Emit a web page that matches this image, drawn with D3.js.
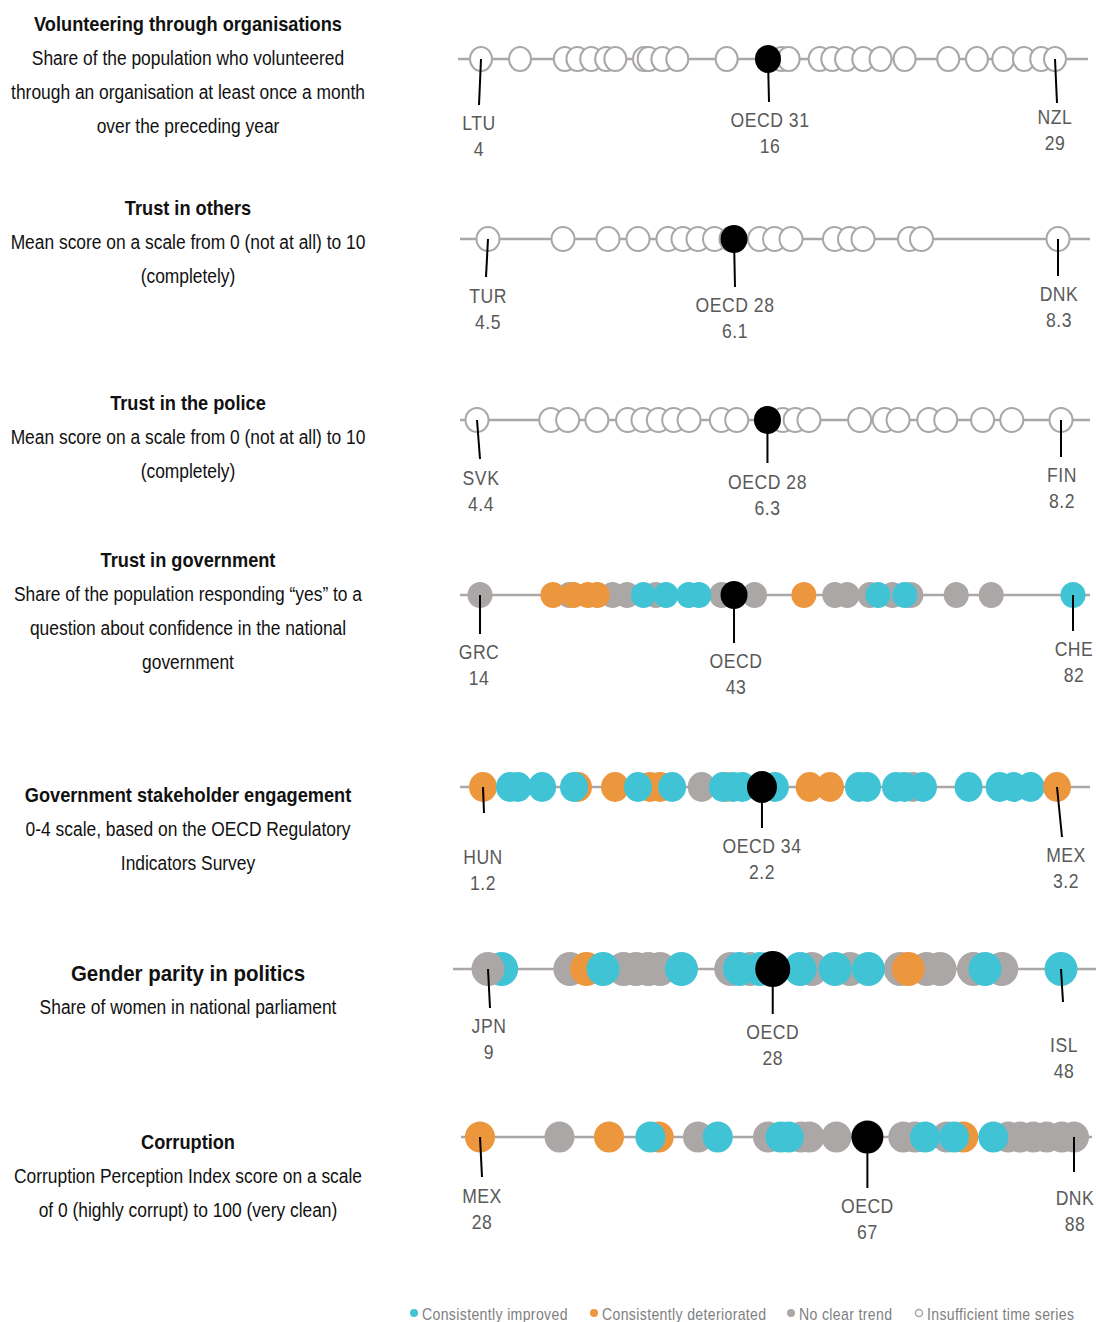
<!DOCTYPE html>
<html><head><meta charset="utf-8">
<script src="https://cdn.jsdelivr.net/npm/d3@7"></script>
<style>body{margin:0;background:#fff}svg{display:block}</style>
</head><body><svg id="chart" width="1096" height="1322"></svg>
<script>
// ---------------- DATA ----------------
const titles = ["Volunteering through organisations","Trust in others","Trust in the police","Trust in government","Government stakeholder engagement","Gender parity in politics","Corruption"];
const subtitles = [
  ["Share of the population who volunteered","through an organisation at least once a month","over the preceding year"],
  ["Mean score on a scale from 0 (not at all) to 10","(completely)"],
  ["Mean score on a scale from 0 (not at all) to 10","(completely)"],
  ["Share of the population responding \u201cyes\u201d to a","question about confidence in the national","government"],
  ["0-4 scale, based on the OECD Regulatory","Indicators Survey"],
  ["Share of women in national parliament"],
  ["Corruption Perception Index score on a scale","of 0 (highly corrupt) to 100 (very clean)"]
];
const minLabels  = [["LTU","4"],["TUR","4.5"],["SVK","4.4"],["GRC","14"],["HUN","1.2"],["JPN","9"],["MEX","28"]];
const oecdLabels = [["OECD 31","16"],["OECD 28","6.1"],["OECD  28","6.3"],["OECD","43"],["OECD 34","2.2"],["OECD","28"],["OECD","67"]];
const maxLabels  = [["NZL","29"],["DNK","8.3"],["FIN","8.2"],["CHE","82"],["MEX","3.2"],["ISL","48"],["DNK","88"]];
const domains = [[4,29],[4.5,8.3],[4.4,8.2],[14,82],[1.2,3.2],[9,48],[28,88]];
const oecdValues = [16.5,6.14,6.29,43.13,2.172,28.38,67.13];

// status codes: x = insufficient time series, n = no clear trend, d = deteriorated, i = improved (listed in drawing order)
const volunteeringValues = [4.0,5.7,7.65,8.2,8.8,9.45,9.85,11.1,11.3,11.9,12.55,14.7,17.1,17.4,18.75,19.3,19.9,20.65,21.4,22.45,24.35,25.6,26.75,27.65,28.4,29.0];
const volunteeringStatus = volunteeringValues.map(() => "x");
const trustOthersValues = [4.5,5.0,5.3,5.5,5.7,5.8,5.9,6.01,6.12,6.31,6.41,6.52,6.81,6.91,7.0,7.31,7.39,8.3];
const trustOthersStatus = trustOthersValues.map(() => "x");
const trustPoliceValues = [4.4,4.88,4.99,5.18,5.38,5.48,5.58,5.68,5.78,5.99,6.09,6.39,6.47,6.56,6.89,7.05,7.14,7.34,7.45,7.69,7.88,8.2];
const trustPoliceStatus = trustPoliceValues.map(() => "x");
const trustGovValues = [14.0,24.24,29.2,30.86,34.16,41.71,45.48,54.69,56.1,58.7,61.29,63.41,68.61,72.62,
                        22.36,24.72,26.37,27.45,51.14,
                        32.74,35.33,37.93,39.11,59.64,62.7,82];
const trustGovStatus = ["n","n","n","n","n","n","n","n","n","n","n","n","n","n",
                        "d","d","d","d","d",
                        "i","i","i","i","i","i","i"];
const engagementValues = [1.962,2.698,
                          1.20,1.531,1.660,1.782,1.817,2.047,2.338,2.409,
                          1.294,1.322,1.406,1.517,1.740,1.859,2.036,2.071,2.103,2.217,2.510,2.538,2.639,2.669,2.733,2.892,3.000,3.050,3.108,
                          3.20];
const engagementStatus = ["n","n",
                          "d","d","d","d","d","d","d","d",
                          "i","i","i","i","i","i","i","i","i","i","i","i","i","i","i","i","i","i","i",
                          "d"];
const genderValues = [9.93,
                      9.0,14.57,18.23,19.07,19.91,20.71,25.52,26.84,31.04,33.64,37.05,38.86,39.77,42.04,43.97,
                      15.70,37.61,
                      16.83,22.17,26.11,27.52,30.24,32.62,34.89,42.83,48.0];
const genderStatus = ["i",
                      "n","n","n","n","n","n","n","n","n","n","n","n","n","n","n",
                      "d","d",
                      "i","i","i","i","i","i","i","i","i"];
const corruptionValues = [36.03,50.02,57.09,60.42,61.28,64.0,70.76,71.94,75.14,81.36,82.55,83.89,85.24,86.76,88,
                          28,41.03,46.05,76.82,
                          45.21,52.02,58.36,59.19,72.95,75.88,79.85];
const corruptionStatus = ["n","n","n","n","n","n","n","n","n","n","n","n","n","n","n",
                          "d","d","d","d",
                          "i","i","i","i","i","i","i"];
const rowValues = [volunteeringValues,trustOthersValues,trustPoliceValues,trustGovValues,engagementValues,genderValues,corruptionValues];
const rowStatus = [volunteeringStatus,trustOthersStatus,trustPoliceStatus,trustGovStatus,engagementStatus,genderStatus,corruptionStatus];
const legendLabels = ["Consistently improved","Consistently deteriorated","No clear trend","Insufficient time series"];
const legendCodes = ["i","d","n","x"];

// ---------------- LAYOUT ----------------
const rowY = [59,239,420,595,787,969,1137];
const ranges = [[481,1055],[488,1058],[477,1061],[480,1073],[483,1057],[488,1061],[480,1074]];
const lineExtent = [[458,1088],[460,1090],[460,1090],[460,1090],[460,1090],[453,1096],[461,1092]];
const dotRadii = [[12,13],[12.5,13],[12.5,13],[12.5,13],[14,15],[16.5,17],[15,15.5]];
const titleY = [24,208,403,560,795,973,1142];
const lineGap = 34;
// label specs: [stickDx, stickEndY, textDx, textY]
const labelSpec = [
  [[-2,105,-2,123],[1,102,2,120],[2,103,0,117]],
  [[-2,277,0,296],[1,287,1,305],[0,276,1,294]],
  [[3,459,4,478],[0,463,0,482],[0,457,1,475]],
  [[0,634,-1,652],[0,643,2,661],[0,631,1,649]],
  [[1,813,0,857],[0,828,0,846],[5,837,9,855]],
  [[2,1008,1,1026],[0,1014,0,1032],[2,1002,3,1045]],
  [[2,1177,2,1196],[0,1188,0,1206],[0,1172,1,1198]]
];
const fill = {i:"#41c3d6", d:"#ec963d", n:"#aaa7a6", x:"#ffffff"};
const FONT = "'Liberation Sans',Arial,sans-serif";

const svg = d3.select("#chart");

// condensed text helper: horizontally squeezed text centred at (x,y)
function ctext(parent, x, y, str, size, k, opts = {}) {
  const g = parent.append("g").attr("transform", `translate(${x},${y}) scale(${k},1)`);
  const t = g.append("text").attr("x",0).attr("y",0).attr("dy","0.35em")
    .attr("font-family",FONT).attr("font-size",size)
    .attr("text-anchor", opts.anchor || "middle")
    .attr("fill", opts.fill || "#111")
    .text(str);
  if (opts.bold) t.attr("font-weight","bold");
  if (opts.ls) t.attr("letter-spacing", opts.ls);
  return t;
}

// left descriptions
titles.forEach((t,r) => {
  const g = svg.append("g");
  ctext(g, 188, titleY[r], t, r===5 ? 22.5 : 20, 0.91, {bold:true, fill:"#111"});
  subtitles[r].forEach((s,k) => {
    ctext(g, 188, titleY[r]+lineGap*(k+1), s, 20, 0.87, {fill:"#111"});
  });
});

// strips
rowValues.forEach((vals,r) => {
  const x = d3.scaleLinear().domain(domains[r]).range(ranges[r]);
  const y = rowY[r];
  const g = svg.append("g");
  g.append("line").attr("x1",lineExtent[r][0]).attr("x2",lineExtent[r][1]).attr("y1",y).attr("y2",y)
    .attr("stroke","#aaa7a6").attr("stroke-width",2.5);
  const data = vals.map((v,i) => ({v, s: rowStatus[r][i]}));
  const [rx,ry] = dotRadii[r];
  g.selectAll("ellipse.dot").data(data).join("ellipse").attr("class","dot")
    .attr("cx",d => x(d.v)).attr("cy",y).attr("rx",d => d.s==="x" ? rx-1 : rx).attr("ry",d => d.s==="x" ? ry-1 : ry)
    .attr("fill",d => fill[d.s])
    .attr("stroke",d => d.s==="x" ? "#aaa7a6" : "none")
    .attr("stroke-width",2);
  g.append("ellipse").attr("cx",x(oecdValues[r])).attr("cy",y).attr("rx",rx+1).attr("ry",ry+1).attr("fill","#000");

  const anchors = [domains[r][0], oecdValues[r], domains[r][1]];
  const labs = [minLabels[r], oecdLabels[r], maxLabels[r]];
  anchors.forEach((a,k) => {
    const [sdx, sy, tdx, ty] = labelSpec[r][k];
    const ax = x(a);
    g.append("line").attr("x1",ax).attr("y1",y).attr("x2",ax+sdx).attr("y2",sy)
      .attr("stroke","#000").attr("stroke-width",2);
    labs[k].forEach((txt,j) => {
      ctext(g, ax+tdx, ty+26*j, txt, 20, 0.88, {fill:"#595959", ls:0.6});
    });
  });
});

// legend
const legendX = [414,594,791,919];
const lg = svg.append("g");
legendCodes.forEach((c,k) => {
  lg.append("circle").attr("cx",legendX[k]).attr("cy",1313).attr("r",c==="x"?3.5:4)
    .attr("fill",fill[c]).attr("stroke",c==="x"?"#aaa7a6":"none").attr("stroke-width",1.5);
  ctext(lg, legendX[k]+8, 1314, legendLabels[k], 16, 0.88, {anchor:"start", fill:"#7f7f7f", ls:0.4});
});
</script>
</body></html>
